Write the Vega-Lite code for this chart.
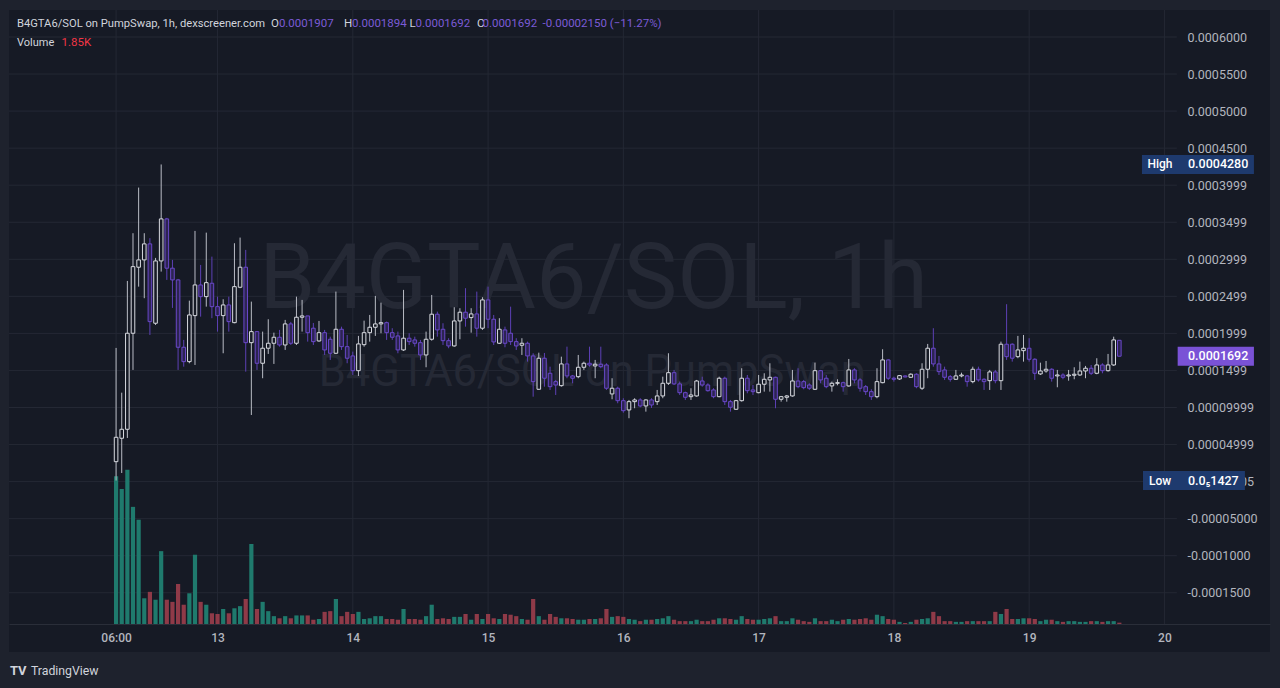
{
"$schema":"https://vega.github.io/schema/vega-lite/v6.json",
"width":1261,"height":642,
"autosize":{"type":"none"},
"padding":{"left":9,"top":10,"right":10,"bottom":36},
"background":"#1e222d",
"config":{"view":{"stroke":null,"fill":"#161a25"},"font":"Roboto"},
"datasets":{
"candles":[
{"t":"2025-05-12T06:00Z","o":0.0000269,"h":0.0001804,"l":0.00000143,"c":0.0000598,"v":207},
{"t":"2025-05-12T07:00Z","o":0.0000585,"h":0.00012,"l":0.0000116,"c":0.0000706,"v":189},
{"t":"2025-05-12T08:00Z","o":0.0000706,"h":0.0002708,"l":0.0000589,"c":0.0002002,"v":216},
{"t":"2025-05-12T09:00Z","o":0.0002002,"h":0.0003352,"l":0.0001507,"c":0.0002901,"v":164},
{"t":"2025-05-12T10:00Z","o":0.0002893,"h":0.0003968,"l":0.0002631,"c":0.0002992,"v":146},
{"t":"2025-05-12T11:00Z","o":0.0002992,"h":0.0003352,"l":0.0002475,"c":0.0003208,"v":36},
{"t":"2025-05-12T12:00Z","o":0.0003208,"h":0.0003285,"l":0.0001979,"c":0.0002159,"v":45},
{"t":"2025-05-12T13:00Z","o":0.0002137,"h":0.0003019,"l":0.0002114,"c":0.0002978,"v":34},
{"t":"2025-05-12T14:00Z","o":0.0002978,"h":0.000428,"l":0.0002834,"c":0.0003545,"v":102},
{"t":"2025-05-12T15:00Z","o":0.0003545,"h":0.0003559,"l":0.0002722,"c":0.000288,"v":34},
{"t":"2025-05-12T16:00Z","o":0.000288,"h":0.0002992,"l":0.0002344,"c":0.0002722,"v":31},
{"t":"2025-05-12T17:00Z","o":0.0002722,"h":0.0002735,"l":0.0001507,"c":0.0001813,"v":56},
{"t":"2025-05-12T18:00Z","o":0.0001813,"h":0.0001912,"l":0.0001551,"c":0.0001619,"v":27},
{"t":"2025-05-12T19:00Z","o":0.0001619,"h":0.0002442,"l":0.0001597,"c":0.0002249,"v":43},
{"t":"2025-05-12T20:00Z","o":0.000224,"h":0.0003383,"l":0.0001574,"c":0.0002654,"v":97},
{"t":"2025-05-12T21:00Z","o":0.0002654,"h":0.0002924,"l":0.0002226,"c":0.0002496,"v":31},
{"t":"2025-05-12T22:00Z","o":0.0002496,"h":0.000336,"l":0.0002361,"c":0.0002685,"v":27},
{"t":"2025-05-12T23:00Z","o":0.0002677,"h":0.0003036,"l":0.0002205,"c":0.0002361,"v":15},
{"t":"2025-05-13T00:00Z","o":0.0002361,"h":0.0002496,"l":0.0002024,"c":0.000224,"v":14},
{"t":"2025-05-13T01:00Z","o":0.000224,"h":0.0002461,"l":0.0001732,"c":0.0002384,"v":21},
{"t":"2025-05-13T02:00Z","o":0.0002384,"h":0.0002496,"l":0.0002024,"c":0.0002159,"v":15},
{"t":"2025-05-13T03:00Z","o":0.0002145,"h":0.0003217,"l":0.0002137,"c":0.0002631,"v":22},
{"t":"2025-05-13T04:00Z","o":0.0002623,"h":0.0003293,"l":0.000261,"c":0.0002893,"v":25},
{"t":"2025-05-13T05:00Z","o":0.0002893,"h":0.0003127,"l":0.0001484,"c":0.0001875,"v":35},
{"t":"2025-05-13T06:00Z","o":0.0001875,"h":0.0002429,"l":0.0000899,"c":0.0002024,"v":112},
{"t":"2025-05-13T07:00Z","o":0.0002024,"h":0.0002024,"l":0.0001507,"c":0.0001597,"v":21},
{"t":"2025-05-13T08:00Z","o":0.0001597,"h":0.0002024,"l":0.0001395,"c":0.00018,"v":31},
{"t":"2025-05-13T09:00Z","o":0.00018,"h":0.0002191,"l":0.0001723,"c":0.0001867,"v":18},
{"t":"2025-05-13T10:00Z","o":0.0001867,"h":0.000201,"l":0.0001588,"c":0.0001948,"v":11},
{"t":"2025-05-13T11:00Z","o":0.0001948,"h":0.0002047,"l":0.0001821,"c":0.0001844,"v":8},
{"t":"2025-05-13T12:00Z","o":0.0001844,"h":0.0002182,"l":0.0001777,"c":0.0002128,"v":11},
{"t":"2025-05-13T13:00Z","o":0.0002128,"h":0.0002155,"l":0.0001844,"c":0.0001867,"v":8},
{"t":"2025-05-13T14:00Z","o":0.0001867,"h":0.0002496,"l":0.0001844,"c":0.0002218,"v":12},
{"t":"2025-05-13T15:00Z","o":0.0002218,"h":0.0002452,"l":0.0002024,"c":0.0002236,"v":12},
{"t":"2025-05-13T16:00Z","o":0.0002236,"h":0.0002236,"l":0.0001889,"c":0.000201,"v":12},
{"t":"2025-05-13T17:00Z","o":0.000207,"h":0.0002141,"l":0.0001844,"c":0.0001889,"v":6},
{"t":"2025-05-13T18:00Z","o":0.0001898,"h":0.0002168,"l":0.0001889,"c":0.000201,"v":7},
{"t":"2025-05-13T19:00Z","o":0.000201,"h":0.0002047,"l":0.0001709,"c":0.0001777,"v":17},
{"t":"2025-05-13T20:00Z","o":0.0001921,"h":0.0001956,"l":0.0001642,"c":0.0001732,"v":18},
{"t":"2025-05-13T21:00Z","o":0.0001732,"h":0.0002564,"l":0.0001723,"c":0.0002056,"v":35},
{"t":"2025-05-13T22:00Z","o":0.0002056,"h":0.0002091,"l":0.0001777,"c":0.0001821,"v":11},
{"t":"2025-05-13T23:00Z","o":0.0001821,"h":0.0001979,"l":0.0001597,"c":0.0001665,"v":17},
{"t":"2025-05-14T00:00Z","o":0.0001696,"h":0.0001754,"l":0.0001439,"c":0.0001497,"v":14},
{"t":"2025-05-14T01:00Z","o":0.0001497,"h":0.0001966,"l":0.0001426,"c":0.0001858,"v":17},
{"t":"2025-05-14T02:00Z","o":0.0001848,"h":0.0002172,"l":0.0001821,"c":0.000201,"v":7},
{"t":"2025-05-14T03:00Z","o":0.000201,"h":0.0002249,"l":0.0001889,"c":0.0002083,"v":8},
{"t":"2025-05-14T04:00Z","o":0.0002083,"h":0.0002506,"l":0.0001966,"c":0.0002128,"v":11},
{"t":"2025-05-14T05:00Z","o":0.0002128,"h":0.0002415,"l":0.0002002,"c":0.0002145,"v":11},
{"t":"2025-05-14T06:00Z","o":0.0002145,"h":0.0002159,"l":0.0001912,"c":0.000201,"v":7},
{"t":"2025-05-14T07:00Z","o":0.000201,"h":0.000207,"l":0.0001912,"c":0.0001948,"v":7},
{"t":"2025-05-14T08:00Z","o":0.0001966,"h":0.0002024,"l":0.0001732,"c":0.0001777,"v":6},
{"t":"2025-05-14T09:00Z","o":0.0001777,"h":0.0002587,"l":0.0001763,"c":0.0001935,"v":21},
{"t":"2025-05-14T10:00Z","o":0.0001935,"h":0.0002002,"l":0.0001844,"c":0.0001889,"v":7},
{"t":"2025-05-14T11:00Z","o":0.0001912,"h":0.0001956,"l":0.0001821,"c":0.0001867,"v":7},
{"t":"2025-05-14T12:00Z","o":0.0001875,"h":0.0001912,"l":0.0001642,"c":0.0001709,"v":6},
{"t":"2025-05-14T13:00Z","o":0.0001709,"h":0.0002024,"l":0.0001543,"c":0.0001921,"v":11},
{"t":"2025-05-14T14:00Z","o":0.0001921,"h":0.0002519,"l":0.0001902,"c":0.0002259,"v":27},
{"t":"2025-05-14T15:00Z","o":0.0002259,"h":0.0002294,"l":0.0001956,"c":0.0002047,"v":7},
{"t":"2025-05-14T16:00Z","o":0.0002056,"h":0.0002137,"l":0.0001844,"c":0.0001902,"v":8},
{"t":"2025-05-14T17:00Z","o":0.0001902,"h":0.0001935,"l":0.00018,"c":0.0001831,"v":7},
{"t":"2025-05-14T18:00Z","o":0.0001831,"h":0.0002353,"l":0.0001821,"c":0.0002168,"v":10},
{"t":"2025-05-14T19:00Z","o":0.0002168,"h":0.000234,"l":0.0001921,"c":0.0002286,"v":10},
{"t":"2025-05-14T20:00Z","o":0.0002286,"h":0.000261,"l":0.0002091,"c":0.0002205,"v":14},
{"t":"2025-05-14T21:00Z","o":0.0002213,"h":0.000234,"l":0.000201,"c":0.0002263,"v":6},
{"t":"2025-05-14T22:00Z","o":0.0002263,"h":0.0002564,"l":0.0001956,"c":0.000207,"v":14},
{"t":"2025-05-14T23:00Z","o":0.000207,"h":0.0002488,"l":0.0002047,"c":0.0002452,"v":7},
{"t":"2025-05-15T00:00Z","o":0.0002452,"h":0.0002631,"l":0.000207,"c":0.0002191,"v":14},
{"t":"2025-05-15T01:00Z","o":0.0002191,"h":0.0002249,"l":0.0001844,"c":0.0001885,"v":8},
{"t":"2025-05-15T02:00Z","o":0.0001867,"h":0.0002205,"l":0.0001858,"c":0.0002056,"v":7},
{"t":"2025-05-15T03:00Z","o":0.0002047,"h":0.0002091,"l":0.0001813,"c":0.0001867,"v":14},
{"t":"2025-05-15T04:00Z","o":0.0002002,"h":0.0002361,"l":0.0001844,"c":0.0001889,"v":13},
{"t":"2025-05-15T05:00Z","o":0.0001889,"h":0.0001935,"l":0.0001777,"c":0.0001831,"v":11},
{"t":"2025-05-15T06:00Z","o":0.000184,"h":0.0001935,"l":0.0001709,"c":0.0001867,"v":7},
{"t":"2025-05-15T07:00Z","o":0.0001867,"h":0.0001889,"l":0.0001619,"c":0.0001696,"v":6},
{"t":"2025-05-15T08:00Z","o":0.0001696,"h":0.0001732,"l":0.0001146,"c":0.0001349,"v":35},
{"t":"2025-05-15T09:00Z","o":0.0001246,"h":0.000174,"l":0.0001237,"c":0.0001665,"v":11},
{"t":"2025-05-15T10:00Z","o":0.0001665,"h":0.0001736,"l":0.0001281,"c":0.0001395,"v":6},
{"t":"2025-05-15T11:00Z","o":0.0001462,"h":0.0001551,"l":0.0001237,"c":0.0001281,"v":14},
{"t":"2025-05-15T12:00Z","o":0.0001349,"h":0.0001372,"l":0.0001169,"c":0.0001304,"v":10},
{"t":"2025-05-15T13:00Z","o":0.0001295,"h":0.0001686,"l":0.0001281,"c":0.0001588,"v":8},
{"t":"2025-05-15T14:00Z","o":0.0001588,"h":0.0001821,"l":0.0001395,"c":0.0001426,"v":8},
{"t":"2025-05-15T15:00Z","o":0.0001426,"h":0.0001439,"l":0.0001327,"c":0.0001395,"v":7},
{"t":"2025-05-15T16:00Z","o":0.0001416,"h":0.0001709,"l":0.0001395,"c":0.0001543,"v":6},
{"t":"2025-05-15T17:00Z","o":0.0001543,"h":0.0001619,"l":0.0001507,"c":0.0001597,"v":6},
{"t":"2025-05-15T18:00Z","o":0.0001597,"h":0.0001821,"l":0.0001551,"c":0.0001574,"v":7},
{"t":"2025-05-15T19:00Z","o":0.0001561,"h":0.0001642,"l":0.0001395,"c":0.0001584,"v":7},
{"t":"2025-05-15T20:00Z","o":0.0001584,"h":0.0001821,"l":0.000153,"c":0.0001551,"v":8},
{"t":"2025-05-15T21:00Z","o":0.0001574,"h":0.0001597,"l":0.0001237,"c":0.000126,"v":21},
{"t":"2025-05-15T22:00Z","o":0.0001183,"h":0.0001395,"l":0.0001111,"c":0.000126,"v":10},
{"t":"2025-05-15T23:00Z","o":0.000126,"h":0.0001281,"l":0.0001057,"c":0.0001092,"v":11},
{"t":"2025-05-16T00:00Z","o":0.0001092,"h":0.0001125,"l":0.000093,"c":0.0000957,"v":10},
{"t":"2025-05-16T01:00Z","o":0.0000967,"h":0.0001102,"l":0.0000855,"c":0.0001079,"v":7},
{"t":"2025-05-16T02:00Z","o":0.0001079,"h":0.0001125,"l":0.000099,"c":0.0001102,"v":6},
{"t":"2025-05-16T03:00Z","o":0.0001102,"h":0.0001125,"l":0.0001003,"c":0.0001021,"v":4},
{"t":"2025-05-16T04:00Z","o":0.0001021,"h":0.0001111,"l":0.0000944,"c":0.0001102,"v":6},
{"t":"2025-05-16T05:00Z","o":0.0001102,"h":0.0001125,"l":0.0000994,"c":0.0001034,"v":6},
{"t":"2025-05-16T06:00Z","o":0.0001079,"h":0.0001237,"l":0.0001034,"c":0.0001156,"v":7},
{"t":"2025-05-16T07:00Z","o":0.0001156,"h":0.0001416,"l":0.0001125,"c":0.0001327,"v":8},
{"t":"2025-05-16T08:00Z","o":0.0001327,"h":0.0001732,"l":0.0001304,"c":0.000147,"v":11},
{"t":"2025-05-16T09:00Z","o":0.000147,"h":0.0001507,"l":0.0001304,"c":0.0001318,"v":6},
{"t":"2025-05-16T10:00Z","o":0.0001318,"h":0.0001349,"l":0.0001169,"c":0.00012,"v":4},
{"t":"2025-05-16T11:00Z","o":0.00012,"h":0.0001214,"l":0.0001102,"c":0.0001138,"v":4},
{"t":"2025-05-16T12:00Z","o":0.0001146,"h":0.000126,"l":0.0001102,"c":0.0001169,"v":4},
{"t":"2025-05-16T13:00Z","o":0.0001156,"h":0.0001372,"l":0.0001146,"c":0.0001358,"v":6},
{"t":"2025-05-16T14:00Z","o":0.0001358,"h":0.0001416,"l":0.0001281,"c":0.0001304,"v":4},
{"t":"2025-05-16T15:00Z","o":0.0001304,"h":0.0001327,"l":0.0001214,"c":0.0001227,"v":4},
{"t":"2025-05-16T16:00Z","o":0.0001237,"h":0.000126,"l":0.0001125,"c":0.0001146,"v":6},
{"t":"2025-05-16T17:00Z","o":0.0001146,"h":0.0001416,"l":0.0001138,"c":0.0001395,"v":8},
{"t":"2025-05-16T18:00Z","o":0.0001395,"h":0.0001416,"l":0.0001034,"c":0.0001079,"v":8},
{"t":"2025-05-16T19:00Z","o":0.0001079,"h":0.0001102,"l":0.0000944,"c":0.0001003,"v":7},
{"t":"2025-05-16T20:00Z","o":0.0000976,"h":0.0001102,"l":0.0000967,"c":0.0001092,"v":6},
{"t":"2025-05-16T21:00Z","o":0.0001092,"h":0.000153,"l":0.0001079,"c":0.0001395,"v":11},
{"t":"2025-05-16T22:00Z","o":0.0001395,"h":0.0001439,"l":0.0001192,"c":0.0001227,"v":7},
{"t":"2025-05-16T23:00Z","o":0.0001237,"h":0.0001304,"l":0.0001169,"c":0.0001214,"v":6},
{"t":"2025-05-17T00:00Z","o":0.00012,"h":0.0001439,"l":0.0001192,"c":0.0001314,"v":6},
{"t":"2025-05-17T01:00Z","o":0.0001314,"h":0.0001462,"l":0.0001214,"c":0.0001381,"v":7},
{"t":"2025-05-17T02:00Z","o":0.0001372,"h":0.0001597,"l":0.0001214,"c":0.0001408,"v":8},
{"t":"2025-05-17T03:00Z","o":0.0001408,"h":0.0001416,"l":0.000099,"c":0.0001111,"v":11},
{"t":"2025-05-17T04:00Z","o":0.0001111,"h":0.0001156,"l":0.0001079,"c":0.0001146,"v":4},
{"t":"2025-05-17T05:00Z","o":0.0001138,"h":0.0001169,"l":0.0001079,"c":0.0001156,"v":4},
{"t":"2025-05-17T06:00Z","o":0.0001156,"h":0.0001507,"l":0.0001146,"c":0.0001358,"v":8},
{"t":"2025-05-17T07:00Z","o":0.0001358,"h":0.000153,"l":0.000126,"c":0.0001281,"v":6},
{"t":"2025-05-17T08:00Z","o":0.0001349,"h":0.0001372,"l":0.0001246,"c":0.0001268,"v":4},
{"t":"2025-05-17T09:00Z","o":0.0001304,"h":0.0001327,"l":0.0001237,"c":0.000126,"v":3},
{"t":"2025-05-17T10:00Z","o":0.0001246,"h":0.0001605,"l":0.0001237,"c":0.0001497,"v":8},
{"t":"2025-05-17T11:00Z","o":0.0001497,"h":0.0001507,"l":0.0001327,"c":0.0001372,"v":4},
{"t":"2025-05-17T12:00Z","o":0.0001395,"h":0.0001439,"l":0.000126,"c":0.0001281,"v":4},
{"t":"2025-05-17T13:00Z","o":0.0001291,"h":0.0001349,"l":0.0001214,"c":0.0001327,"v":6},
{"t":"2025-05-17T14:00Z","o":0.0001327,"h":0.0001381,"l":0.00013,"c":0.0001335,"v":4},
{"t":"2025-05-17T15:00Z","o":0.0001335,"h":0.0001349,"l":0.0001214,"c":0.0001281,"v":6},
{"t":"2025-05-17T16:00Z","o":0.0001291,"h":0.0001655,"l":0.0001281,"c":0.0001507,"v":7},
{"t":"2025-05-17T17:00Z","o":0.0001507,"h":0.000153,"l":0.0001327,"c":0.0001372,"v":6},
{"t":"2025-05-17T18:00Z","o":0.0001372,"h":0.0001395,"l":0.0001214,"c":0.000126,"v":7},
{"t":"2025-05-17T19:00Z","o":0.0001281,"h":0.0001304,"l":0.0001169,"c":0.0001214,"v":8},
{"t":"2025-05-17T20:00Z","o":0.0001214,"h":0.0001246,"l":0.0001102,"c":0.0001146,"v":6},
{"t":"2025-05-17T21:00Z","o":0.0001146,"h":0.000153,"l":0.0001125,"c":0.0001349,"v":13},
{"t":"2025-05-17T22:00Z","o":0.0001335,"h":0.0001786,"l":0.0001327,"c":0.0001642,"v":11},
{"t":"2025-05-17T23:00Z","o":0.0001642,"h":0.0001651,"l":0.0001372,"c":0.0001395,"v":7},
{"t":"2025-05-18T00:00Z","o":0.0001395,"h":0.0001416,"l":0.0001349,"c":0.0001381,"v":6},
{"t":"2025-05-18T01:00Z","o":0.0001385,"h":0.0001439,"l":0.0001372,"c":0.000143,"v":3},
{"t":"2025-05-18T02:00Z","o":0.0001426,"h":0.0001432,"l":0.0001408,"c":0.0001412,"v":1.4},
{"t":"2025-05-18T03:00Z","o":0.0001408,"h":0.0001462,"l":0.0001399,"c":0.0001449,"v":3},
{"t":"2025-05-18T04:00Z","o":0.0001449,"h":0.0001462,"l":0.000126,"c":0.0001281,"v":6},
{"t":"2025-05-18T05:00Z","o":0.000126,"h":0.0001597,"l":0.0001237,"c":0.0001516,"v":7},
{"t":"2025-05-18T06:00Z","o":0.0001516,"h":0.0001858,"l":0.0001395,"c":0.00018,"v":8},
{"t":"2025-05-18T07:00Z","o":0.00018,"h":0.000207,"l":0.0001551,"c":0.0001588,"v":17},
{"t":"2025-05-18T08:00Z","o":0.0001588,"h":0.0001696,"l":0.0001439,"c":0.0001484,"v":11},
{"t":"2025-05-18T09:00Z","o":0.0001507,"h":0.0001551,"l":0.0001372,"c":0.0001408,"v":4},
{"t":"2025-05-18T10:00Z","o":0.0001416,"h":0.0001439,"l":0.0001349,"c":0.0001381,"v":4},
{"t":"2025-05-18T11:00Z","o":0.0001381,"h":0.0001507,"l":0.0001372,"c":0.0001426,"v":3},
{"t":"2025-05-18T12:00Z","o":0.0001426,"h":0.000147,"l":0.0001408,"c":0.0001439,"v":3},
{"t":"2025-05-18T13:00Z","o":0.0001426,"h":0.0001439,"l":0.0001281,"c":0.0001349,"v":4},
{"t":"2025-05-18T14:00Z","o":0.0001349,"h":0.0001551,"l":0.0001327,"c":0.0001516,"v":4},
{"t":"2025-05-18T15:00Z","o":0.0001516,"h":0.0001551,"l":0.0001349,"c":0.0001372,"v":4},
{"t":"2025-05-18T16:00Z","o":0.0001381,"h":0.0001395,"l":0.0001237,"c":0.0001349,"v":4},
{"t":"2025-05-18T17:00Z","o":0.0001362,"h":0.0001507,"l":0.0001237,"c":0.000148,"v":4},
{"t":"2025-05-18T18:00Z","o":0.000148,"h":0.0001507,"l":0.0001327,"c":0.0001362,"v":17},
{"t":"2025-05-18T19:00Z","o":0.0001362,"h":0.0001889,"l":0.0001237,"c":0.0001854,"v":14},
{"t":"2025-05-18T20:00Z","o":0.0001854,"h":0.0002394,"l":0.0001642,"c":0.0001686,"v":21},
{"t":"2025-05-18T21:00Z","o":0.0001854,"h":0.0001867,"l":0.0001619,"c":0.0001665,"v":7},
{"t":"2025-05-18T22:00Z","o":0.0001686,"h":0.0001966,"l":0.0001665,"c":0.0001777,"v":7},
{"t":"2025-05-18T23:00Z","o":0.0001767,"h":0.0001979,"l":0.0001619,"c":0.00018,"v":8},
{"t":"2025-05-19T00:00Z","o":0.00018,"h":0.0001935,"l":0.0001619,"c":0.0001651,"v":8},
{"t":"2025-05-19T01:00Z","o":0.0001651,"h":0.0001665,"l":0.0001372,"c":0.0001462,"v":7},
{"t":"2025-05-19T02:00Z","o":0.0001453,"h":0.0001605,"l":0.0001439,"c":0.0001493,"v":4},
{"t":"2025-05-19T03:00Z","o":0.0001493,"h":0.0001628,"l":0.000147,"c":0.0001516,"v":6},
{"t":"2025-05-19T04:00Z","o":0.0001516,"h":0.000153,"l":0.0001349,"c":0.0001395,"v":6},
{"t":"2025-05-19T05:00Z","o":0.0001426,"h":0.0001507,"l":0.0001273,"c":0.0001439,"v":4},
{"t":"2025-05-19T06:00Z","o":0.0001439,"h":0.0001462,"l":0.0001381,"c":0.0001408,"v":3},
{"t":"2025-05-19T07:00Z","o":0.0001426,"h":0.0001507,"l":0.0001362,"c":0.0001439,"v":4},
{"t":"2025-05-19T08:00Z","o":0.0001435,"h":0.0001543,"l":0.0001381,"c":0.0001449,"v":4},
{"t":"2025-05-19T09:00Z","o":0.0001439,"h":0.0001619,"l":0.0001426,"c":0.0001493,"v":3},
{"t":"2025-05-19T10:00Z","o":0.0001493,"h":0.0001561,"l":0.0001395,"c":0.000153,"v":3},
{"t":"2025-05-19T11:00Z","o":0.000153,"h":0.0001574,"l":0.0001439,"c":0.0001462,"v":4},
{"t":"2025-05-19T12:00Z","o":0.0001462,"h":0.0001665,"l":0.0001449,"c":0.0001574,"v":4},
{"t":"2025-05-19T13:00Z","o":0.0001574,"h":0.0001597,"l":0.0001462,"c":0.0001497,"v":3},
{"t":"2025-05-19T14:00Z","o":0.0001497,"h":0.0001723,"l":0.0001484,"c":0.0001574,"v":4},
{"t":"2025-05-19T15:00Z","o":0.0001574,"h":0.0001956,"l":0.0001561,"c":0.0001912,"v":4},
{"t":"2025-05-19T16:00Z","o":0.0001907,"h":0.0001907,"l":0.0001692,"c":0.0001692,"v":1.85}
],
"hgrid":[{"p":0.0006},{"p":0.00055},{"p":0.0005},{"p":0.00045},{"p":0.0004},{"p":0.00035},{"p":0.0003},{"p":0.00025},{"p":0.0002},{"p":0.00015},{"p":0.0001},{"p":0.00005},{"p":0},{"p":-0.00005},{"p":-0.0001},{"p":-0.00015}],
"vgrid":[{"t":"2025-05-12T06:00Z"},{"t":"2025-05-13T00:00Z"},{"t":"2025-05-14T00:00Z"},{"t":"2025-05-15T00:00Z"},{"t":"2025-05-16T00:00Z"},{"t":"2025-05-17T00:00Z"},{"t":"2025-05-18T00:00Z"},{"t":"2025-05-19T00:00Z"},{"t":"2025-05-20T00:00Z"}]
},
"resolve":{"scale":{"y":"independent"},"axis":{"x":"independent","y":"independent"}},
"layer":[
{"data":{"name":"hgrid"},"mark":{"type":"rule","color":"#242834","strokeWidth":1},
 "encoding":{"y":{"field":"p","type":"quantitative","scale":{"domain":[-0.00022996,0.00063644],"nice":false,"zero":false,"padding":0},"axis":null},
 "x":{"datum":{"year":2025,"month":5,"date":11,"hours":11,"utc":true},"type":"temporal","scale":{"type":"utc","domain":[{"year":2025,"month":5,"date":11,"hours":11,"utc":true},{"year":2025,"month":5,"date":20,"hours":18,"minutes":44,"utc":true}],"nice":false,"padding":0},"axis":null},
 "x2":{"datum":{"year":2025,"month":5,"date":20,"hours":2,"minutes":12,"utc":true}}}},
{"data":{"name":"vgrid"},"mark":{"type":"rule","color":"#242834","strokeWidth":1},
 "encoding":{"x":{"field":"t","type":"temporal","scale":{"type":"utc","domain":[{"year":2025,"month":5,"date":11,"hours":11,"utc":true},{"year":2025,"month":5,"date":20,"hours":18,"minutes":44,"utc":true}],"nice":false,"padding":0},
   "axis":{"orient":"bottom","offset":-28,"title":null,"grid":false,"ticks":false,"domain":true,"domainColor":"#2a2e39","domainWidth":1,"labelColor":"#b2b5be","labelFontSize":12,"labelFontWeight":500,"labelPadding":8,"labelFlush":false,"labelOverlap":false,
   "values":[{"year":2025,"month":5,"date":12,"hours":6,"utc":true},{"year":2025,"month":5,"date":13,"utc":true},{"year":2025,"month":5,"date":14,"utc":true},{"year":2025,"month":5,"date":15,"utc":true},{"year":2025,"month":5,"date":16,"utc":true},{"year":2025,"month":5,"date":17,"utc":true},{"year":2025,"month":5,"date":18,"utc":true},{"year":2025,"month":5,"date":19,"utc":true},{"year":2025,"month":5,"date":20,"utc":true}],
   "labelExpr":"utcFormat(datum.value, '%H') == '06' ? '06:00' : utcFormat(datum.value, '%d')"}},
 "y":{"datum":0.00063644,"type":"quantitative","scale":{"domain":[-0.00022996,0.00063644],"nice":false,"zero":false,"padding":0},"axis":null},
 "y2":{"datum":-0.00019217}}},
{"data":{"values":[{}]},"mark":{"type":"text","text":"B4GTA6/SOL, 1h","fontSize":90,"color":"#252935","align":"center","baseline":"alphabetic"},
 "encoding":{"x":{"datum":{"year":2025,"month":5,"date":15,"hours":18,"minutes":42,"utc":true},"type":"temporal","scale":{"type":"utc","domain":[{"year":2025,"month":5,"date":11,"hours":11,"utc":true},{"year":2025,"month":5,"date":20,"hours":18,"minutes":44,"utc":true}],"nice":false,"padding":0},"axis":null},
 "y":{"datum":0.00023428,"type":"quantitative","scale":{"domain":[-0.00022996,0.00063644],"nice":false,"zero":false,"padding":0},"axis":null}}},
{"data":{"values":[{}]},"mark":{"type":"text","text":"B4GTA6/SOL on PumpSwap","fontSize":43.5,"color":"#252935","align":"center","baseline":"alphabetic"},
 "encoding":{"x":{"datum":{"year":2025,"month":5,"date":15,"hours":18,"minutes":26,"utc":true},"type":"temporal","scale":{"type":"utc","domain":[{"year":2025,"month":5,"date":11,"hours":11,"utc":true},{"year":2025,"month":5,"date":20,"hours":18,"minutes":44,"utc":true}],"nice":false,"padding":0},"axis":null},
 "y":{"datum":0.00012901,"type":"quantitative","scale":{"domain":[-0.00022996,0.00063644],"nice":false,"zero":false,"padding":0},"axis":null}}},
{"data":{"name":"candles"},"mark":{"type":"bar","size":4.2},
 "encoding":{"x":{"field":"t","type":"temporal","scale":{"type":"utc","domain":[{"year":2025,"month":5,"date":11,"hours":11,"utc":true},{"year":2025,"month":5,"date":20,"hours":18,"minutes":44,"utc":true}],"nice":false,"padding":0},"axis":null},
 "y":{"field":"v","type":"quantitative","scale":{"domain":[-39.2,859.6],"nice":false,"zero":false,"padding":0},"axis":null},
 "y2":{"datum":0},
 "color":{"condition":{"test":"datum.c >= datum.o","value":"#1f7a6d"},"value":"#8f3a48"}}},
{"data":{"name":"candles"},"mark":{"type":"rule","strokeWidth":1},
 "encoding":{"x":{"field":"t","type":"temporal","scale":{"type":"utc","domain":[{"year":2025,"month":5,"date":11,"hours":11,"utc":true},{"year":2025,"month":5,"date":20,"hours":18,"minutes":44,"utc":true}],"nice":false,"padding":0},"axis":null},
 "y":{"field":"l","type":"quantitative","scale":{"domain":[-0.00022996,0.00063644],"nice":false,"zero":false,"padding":0},"axis":null},
 "y2":{"field":"h"},
 "color":{"condition":{"test":"datum.c >= datum.o","value":"#b9bcc5"},"value":"#5d40b5"}}},
{"data":{"name":"candles"},"mark":{"type":"bar","size":3.6,"strokeWidth":1},
 "encoding":{"x":{"field":"t","type":"temporal","scale":{"type":"utc","domain":[{"year":2025,"month":5,"date":11,"hours":11,"utc":true},{"year":2025,"month":5,"date":20,"hours":18,"minutes":44,"utc":true}],"nice":false,"padding":0},"axis":null},
 "y":{"field":"o","type":"quantitative","scale":{"domain":[-0.00022996,0.00063644],"nice":false,"zero":false,"padding":0},
   "axis":{"orient":"right","offset":-93,"title":null,"grid":false,"ticks":false,"domain":false,"labelAlign":"left","labelBaseline":"middle","labelColor":"#b2b5be","labelFontSize":12.5,"labelPadding":10,"labelFlush":false,"labelOverlap":false,
   "values":[0.0006,0.00055,0.0005,0.00045,0.0004,0.00035,0.0003,0.00025,0.0002,0.00015,0.0001,0.00005,0,-0.00005,-0.0001,-0.00015],
   "labelExpr":"['0.0006000','0.0005500','0.0005000','0.0004500','0.0003999','0.0003499','0.0002999','0.0002499','0.0001999','0.0001499','0.00009999','0.00004999','0.00000005','-0.00005000','-0.0001000','-0.0001500'][round((0.0006 - datum.value) / 0.00005)]"}},
 "y2":{"field":"c"},
 "fill":{"condition":{"test":"datum.c >= datum.o","value":"#161a25"},"value":"#2c2452"},
 "stroke":{"condition":{"test":"datum.c >= datum.o","value":"#d8dae0"},"value":"#6a48c9"}}},
{"data":{"values":[{"marker":"High","p":0.000428}]},"mark":{"type":"bar","size":19,"color":"#1e3a6e"},
 "encoding":{"x":{"datum":{"year":2025,"month":5,"date":19,"hours":20,"minutes":1,"utc":true},"type":"temporal","scale":{"type":"utc","domain":[{"year":2025,"month":5,"date":11,"hours":11,"utc":true},{"year":2025,"month":5,"date":20,"hours":18,"minutes":44,"utc":true}],"nice":false,"padding":0},"axis":null},
 "x2":{"datum":{"year":2025,"month":5,"date":20,"hours":15,"minutes":53,"utc":true}},
 "y":{"field":"p","type":"quantitative","scale":{"domain":[-0.00022996,0.00063644],"nice":false,"zero":false,"padding":0},"axis":null}}},
{"data":{"values":[{"marker":"Low","p":0.000001427}]},"mark":{"type":"bar","size":19,"color":"#1e3a6e"},
 "encoding":{"x":{"datum":{"year":2025,"month":5,"date":19,"hours":20,"minutes":12,"utc":true},"type":"temporal","scale":{"type":"utc","domain":[{"year":2025,"month":5,"date":11,"hours":11,"utc":true},{"year":2025,"month":5,"date":20,"hours":18,"minutes":44,"utc":true}],"nice":false,"padding":0},"axis":null},
 "x2":{"datum":{"year":2025,"month":5,"date":20,"hours":14,"minutes":17,"utc":true}},
 "y":{"field":"p","type":"quantitative","scale":{"domain":[-0.00022996,0.00063644],"nice":false,"zero":false,"padding":0},"axis":null}}},
{"data":{"values":[{"marker":"Last","p":0.0001692}]},"mark":{"type":"bar","size":19,"color":"#7a52d6"},
 "encoding":{"x":{"datum":{"year":2025,"month":5,"date":20,"hours":2,"minutes":21,"utc":true},"type":"temporal","scale":{"type":"utc","domain":[{"year":2025,"month":5,"date":11,"hours":11,"utc":true},{"year":2025,"month":5,"date":20,"hours":18,"minutes":44,"utc":true}],"nice":false,"padding":0},"axis":null},
 "x2":{"datum":{"year":2025,"month":5,"date":20,"hours":15,"minutes":53,"utc":true}},
 "y":{"field":"p","type":"quantitative","scale":{"domain":[-0.00022996,0.00063644],"nice":false,"zero":false,"padding":0},"axis":null}}},
{"data":{"values":[{"marker":"High","p":0.000428},{"marker":"Low","p":0.000001427}]},"mark":{"type":"text","align":"center","baseline":"middle","fontSize":12,"fontWeight":500,"color":"#ffffff"},
 "encoding":{"x":{"datum":{"year":2025,"month":5,"date":19,"hours":23,"minutes":13,"utc":true},"type":"temporal","scale":{"type":"utc","domain":[{"year":2025,"month":5,"date":11,"hours":11,"utc":true},{"year":2025,"month":5,"date":20,"hours":18,"minutes":44,"utc":true}],"nice":false,"padding":0},"axis":null},
 "y":{"field":"p","type":"quantitative","scale":{"domain":[-0.00022996,0.00063644],"nice":false,"zero":false,"padding":0},"axis":null},
 "text":{"field":"marker"}}},
{"data":{"values":[{"label":"0.0004280","p":0.000428},{"label":"0.0₅1427","p":0.000001427},{"label":"0.0001692","p":0.0001692}]},"mark":{"type":"text","align":"left","baseline":"middle","fontSize":12.5,"fontWeight":500,"color":"#ffffff"},
 "encoding":{"x":{"datum":{"year":2025,"month":5,"date":20,"hours":4,"minutes":11,"utc":true},"type":"temporal","scale":{"type":"utc","domain":[{"year":2025,"month":5,"date":11,"hours":11,"utc":true},{"year":2025,"month":5,"date":20,"hours":18,"minutes":44,"utc":true}],"nice":false,"padding":0},"axis":null},
 "y":{"field":"p","type":"quantitative","scale":{"domain":[-0.00022996,0.00063644],"nice":false,"zero":false,"padding":0},"axis":null},
 "text":{"field":"label"}}},
{"data":{"values":[{}]},"mark":{"type":"text","text":"B4GTA6/SOL on PumpSwap, 1h, dexscreener.com","align":"left","baseline":"middle","fontSize":11.2,"color":"#d1d4dc"},
 "encoding":{"x":{"datum":{"year":2025,"month":5,"date":11,"hours":12,"minutes":25,"utc":true},"type":"temporal","scale":{"type":"utc","domain":[{"year":2025,"month":5,"date":11,"hours":11,"utc":true},{"year":2025,"month":5,"date":20,"hours":18,"minutes":44,"utc":true}],"nice":false,"padding":0},"axis":null},
 "y":{"datum":0.00061714,"type":"quantitative","scale":{"domain":[-0.00022996,0.00063644],"nice":false,"zero":false,"padding":0},"axis":null}}},
{"data":{"values":[{}]},"mark":{"type":"text","text":"O","align":"left","baseline":"middle","fontSize":11.5,"color":"#d1d4dc"},
 "encoding":{"x":{"datum":{"year":2025,"month":5,"date":13,"hours":9,"minutes":28,"utc":true},"type":"temporal","scale":{"type":"utc","domain":[{"year":2025,"month":5,"date":11,"hours":11,"utc":true},{"year":2025,"month":5,"date":20,"hours":18,"minutes":44,"utc":true}],"nice":false,"padding":0},"axis":null},
 "y":{"datum":0.00061714,"type":"quantitative","scale":{"domain":[-0.00022996,0.00063644],"nice":false,"zero":false,"padding":0},"axis":null}}},
{"data":{"values":[{}]},"mark":{"type":"text","text":"0.0001907","align":"left","baseline":"middle","fontSize":11.5,"color":"#7b5bd6"},
 "encoding":{"x":{"datum":{"year":2025,"month":5,"date":13,"hours":10,"minutes":53,"utc":true},"type":"temporal","scale":{"type":"utc","domain":[{"year":2025,"month":5,"date":11,"hours":11,"utc":true},{"year":2025,"month":5,"date":20,"hours":18,"minutes":44,"utc":true}],"nice":false,"padding":0},"axis":null},
 "y":{"datum":0.00061714,"type":"quantitative","scale":{"domain":[-0.00022996,0.00063644],"nice":false,"zero":false,"padding":0},"axis":null}}},
{"data":{"values":[{}]},"mark":{"type":"text","text":"H","align":"left","baseline":"middle","fontSize":11.5,"color":"#d1d4dc"},
 "encoding":{"x":{"datum":{"year":2025,"month":5,"date":13,"hours":22,"minutes":26,"utc":true},"type":"temporal","scale":{"type":"utc","domain":[{"year":2025,"month":5,"date":11,"hours":11,"utc":true},{"year":2025,"month":5,"date":20,"hours":18,"minutes":44,"utc":true}],"nice":false,"padding":0},"axis":null},
 "y":{"datum":0.00061714,"type":"quantitative","scale":{"domain":[-0.00022996,0.00063644],"nice":false,"zero":false,"padding":0},"axis":null}}},
{"data":{"values":[{}]},"mark":{"type":"text","text":"0.0001894","align":"left","baseline":"middle","fontSize":11.5,"color":"#7b5bd6"},
 "encoding":{"x":{"datum":{"year":2025,"month":5,"date":13,"hours":23,"minutes":51,"utc":true},"type":"temporal","scale":{"type":"utc","domain":[{"year":2025,"month":5,"date":11,"hours":11,"utc":true},{"year":2025,"month":5,"date":20,"hours":18,"minutes":44,"utc":true}],"nice":false,"padding":0},"axis":null},
 "y":{"datum":0.00061714,"type":"quantitative","scale":{"domain":[-0.00022996,0.00063644],"nice":false,"zero":false,"padding":0},"axis":null}}},
{"data":{"values":[{}]},"mark":{"type":"text","text":"L","align":"left","baseline":"middle","fontSize":11.5,"color":"#d1d4dc"},
 "encoding":{"x":{"datum":{"year":2025,"month":5,"date":14,"hours":10,"minutes":3,"utc":true},"type":"temporal","scale":{"type":"utc","domain":[{"year":2025,"month":5,"date":11,"hours":11,"utc":true},{"year":2025,"month":5,"date":20,"hours":18,"minutes":44,"utc":true}],"nice":false,"padding":0},"axis":null},
 "y":{"datum":0.00061714,"type":"quantitative","scale":{"domain":[-0.00022996,0.00063644],"nice":false,"zero":false,"padding":0},"axis":null}}},
{"data":{"values":[{}]},"mark":{"type":"text","text":"0.0001692","align":"left","baseline":"middle","fontSize":11.5,"color":"#7b5bd6"},
 "encoding":{"x":{"datum":{"year":2025,"month":5,"date":14,"hours":11,"minutes":7,"utc":true},"type":"temporal","scale":{"type":"utc","domain":[{"year":2025,"month":5,"date":11,"hours":11,"utc":true},{"year":2025,"month":5,"date":20,"hours":18,"minutes":44,"utc":true}],"nice":false,"padding":0},"axis":null},
 "y":{"datum":0.00061714,"type":"quantitative","scale":{"domain":[-0.00022996,0.00063644],"nice":false,"zero":false,"padding":0},"axis":null}}},
{"data":{"values":[{}]},"mark":{"type":"text","text":"C","align":"left","baseline":"middle","fontSize":11.5,"color":"#d1d4dc"},
 "encoding":{"x":{"datum":{"year":2025,"month":5,"date":14,"hours":22,"minutes":2,"utc":true},"type":"temporal","scale":{"type":"utc","domain":[{"year":2025,"month":5,"date":11,"hours":11,"utc":true},{"year":2025,"month":5,"date":20,"hours":18,"minutes":44,"utc":true}],"nice":false,"padding":0},"axis":null},
 "y":{"datum":0.00061714,"type":"quantitative","scale":{"domain":[-0.00022996,0.00063644],"nice":false,"zero":false,"padding":0},"axis":null}}},
{"data":{"values":[{}]},"mark":{"type":"text","text":"0.0001692","align":"left","baseline":"middle","fontSize":11.5,"color":"#7b5bd6"},
 "encoding":{"x":{"datum":{"year":2025,"month":5,"date":14,"hours":23,"minutes":0,"utc":true},"type":"temporal","scale":{"type":"utc","domain":[{"year":2025,"month":5,"date":11,"hours":11,"utc":true},{"year":2025,"month":5,"date":20,"hours":18,"minutes":44,"utc":true}],"nice":false,"padding":0},"axis":null},
 "y":{"datum":0.00061714,"type":"quantitative","scale":{"domain":[-0.00022996,0.00063644],"nice":false,"zero":false,"padding":0},"axis":null}}},
{"data":{"values":[{}]},"mark":{"type":"text","text":"-0.00002150 (−11.27%)","align":"left","baseline":"middle","fontSize":11.5,"color":"#7b5bd6"},
 "encoding":{"x":{"datum":{"year":2025,"month":5,"date":15,"hours":9,"minutes":40,"utc":true},"type":"temporal","scale":{"type":"utc","domain":[{"year":2025,"month":5,"date":11,"hours":11,"utc":true},{"year":2025,"month":5,"date":20,"hours":18,"minutes":44,"utc":true}],"nice":false,"padding":0},"axis":null},
 "y":{"datum":0.00061714,"type":"quantitative","scale":{"domain":[-0.00022996,0.00063644],"nice":false,"zero":false,"padding":0},"axis":null}}},
{"data":{"values":[{}]},"mark":{"type":"text","text":"Volume","align":"left","baseline":"middle","fontSize":11,"color":"#d1d4dc"},
 "encoding":{"x":{"datum":{"year":2025,"month":5,"date":11,"hours":12,"minutes":25,"utc":true},"type":"temporal","scale":{"type":"utc","domain":[{"year":2025,"month":5,"date":11,"hours":11,"utc":true},{"year":2025,"month":5,"date":20,"hours":18,"minutes":44,"utc":true}],"nice":false,"padding":0},"axis":null},
 "y":{"datum":0.00059231,"type":"quantitative","scale":{"domain":[-0.00022996,0.00063644],"nice":false,"zero":false,"padding":0},"axis":null}}},
{"data":{"values":[{}]},"mark":{"type":"text","text":"1.85K","align":"left","baseline":"middle","fontSize":11.5,"color":"#f23645"},
 "encoding":{"x":{"datum":{"year":2025,"month":5,"date":11,"hours":20,"minutes":19,"utc":true},"type":"temporal","scale":{"type":"utc","domain":[{"year":2025,"month":5,"date":11,"hours":11,"utc":true},{"year":2025,"month":5,"date":20,"hours":18,"minutes":44,"utc":true}],"nice":false,"padding":0},"axis":null},
 "y":{"datum":0.00059231,"type":"quantitative","scale":{"domain":[-0.00022996,0.00063644],"nice":false,"zero":false,"padding":0},"axis":null}}},
{"data":{"values":[{}]},"mark":{"type":"text","text":"TV","align":"left","baseline":"middle","fontSize":13,"fontWeight":"bold","color":"#d1d4dc"},
 "encoding":{"x":{"datum":{"year":2025,"month":5,"date":11,"hours":11,"minutes":10,"utc":true},"type":"temporal","scale":{"type":"utc","domain":[{"year":2025,"month":5,"date":11,"hours":11,"utc":true},{"year":2025,"month":5,"date":20,"hours":18,"minutes":44,"utc":true}],"nice":false,"padding":0},"axis":null},
 "y":{"datum":-0.0002556,"type":"quantitative","scale":{"domain":[-0.00022996,0.00063644],"nice":false,"zero":false,"padding":0},"axis":null}}},
{"data":{"values":[{}]},"mark":{"type":"text","text":"TradingView","align":"left","baseline":"middle","fontSize":12.3,"color":"#d1d4dc"},
 "encoding":{"x":{"datum":{"year":2025,"month":5,"date":11,"hours":14,"minutes":53,"utc":true},"type":"temporal","scale":{"type":"utc","domain":[{"year":2025,"month":5,"date":11,"hours":11,"utc":true},{"year":2025,"month":5,"date":20,"hours":18,"minutes":44,"utc":true}],"nice":false,"padding":0},"axis":null},
 "y":{"datum":-0.0002556,"type":"quantitative","scale":{"domain":[-0.00022996,0.00063644],"nice":false,"zero":false,"padding":0},"axis":null}}}
]
}
